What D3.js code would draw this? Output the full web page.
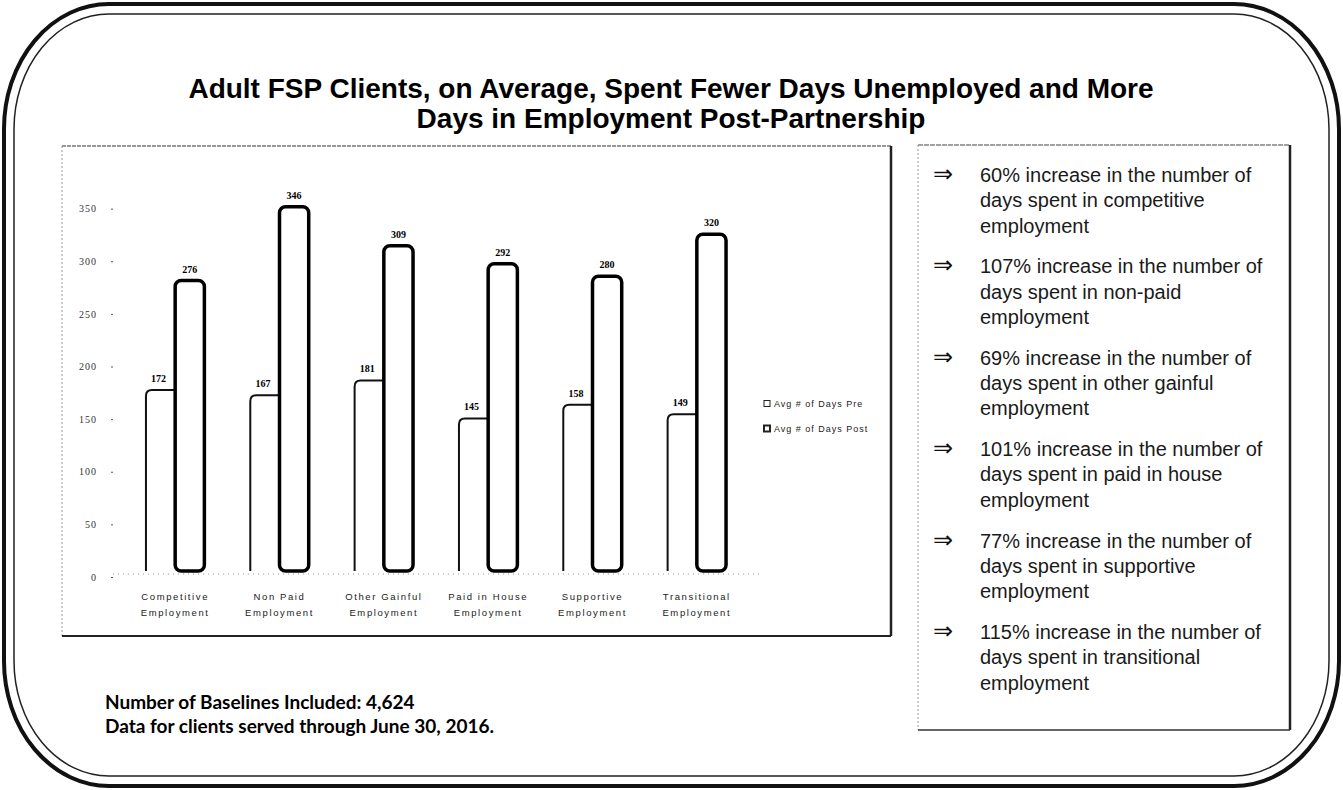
<!DOCTYPE html>
<html>
<head>
<meta charset="utf-8">
<script src="https://cdn.jsdelivr.net/npm/d3@7"></script>
<style>
  body { margin: 0; background: #fff; }
  svg { display: block; }
</style>
</head>
<body>
<div id="chart"></div>
<script>
// data
var categories = ["Competitive Employment", "Non Paid Employment", "Other Gainful Employment",
                  "Paid in House Employment", "Supportive Employment", "Transitional Employment"]
var preValues = [172, 167, 181, 145, 158, 149]
var postValues = [276, 346, 309, 292, 280, 320]
var seriesNames = ["Avg # of Days Pre", "Avg # of Days Post"]
var yTicks = [0, 50, 100, 150, 200, 250, 300, 350]
var titleLines = ["Adult FSP Clients, on Average, Spent Fewer Days Unemployed and More",
                  "Days in Employment Post-Partnership"]
var bullets = [
  ["60% increase in the number of", "days spent in competitive", "employment"],
  ["107% increase in the number of", "days spent in non-paid", "employment"],
  ["69% increase in the number of", "days spent in other gainful", "employment"],
  ["101% increase in the number of", "days spent in paid in house", "employment"],
  ["77% increase in the number of", "days spent in supportive", "employment"],
  ["115% increase in the number of", "days spent in transitional", "employment"]
]
var footNotes = ["Number of Baselines Included: 4,624", "Data for clients served through June 30, 2016."]

var width = 1343,
    height = 790

var svg = d3.select("#chart")
  .append("svg")
    .attr("width", width)
    .attr("height", height)

// outer double rounded frame
svg.append("rect")
  .attr("x", 4).attr("y", 4)
  .attr("width", width - 8).attr("height", height - 8)
  .attr("rx", 105).attr("ry", 125)
  .attr("fill", "none")
  .attr("stroke", "#111")
  .attr("stroke-width", 4)
svg.append("rect")
  .attr("x", 14).attr("y", 14)
  .attr("width", width - 28).attr("height", height - 28)
  .attr("rx", 95).attr("ry", 115)
  .attr("fill", "none")
  .attr("stroke", "#222")
  .attr("stroke-width", 1.5)

// title
svg.append("g")
  .selectAll("text")
  .data(titleLines)
  .enter()
  .append("text")
    .attr("x", 671)
    .attr("y", function(d, i) { return 98 + i * 30 })
    .attr("text-anchor", "middle")
    .style("font-family", "'Liberation Sans', Arial, sans-serif")
    .style("font-weight", "bold")
    .style("font-size", "28px")
    .style("fill", "#000")
    .text(function(d) { return d })

// chart panel borders
var panel = { x0: 62, y0: 146, x1: 891, y1: 636 }
var borders = svg.append("g")
borders.append("line").attr("x1", panel.x0).attr("y1", panel.y0).attr("x2", panel.x1).attr("y2", panel.y0)
  .attr("stroke", "#333").attr("stroke-width", 1.2).attr("stroke-dasharray", "4,1")
borders.append("line").attr("x1", panel.x0).attr("y1", panel.y0).attr("x2", panel.x0).attr("y2", panel.y1)
  .attr("stroke", "#999").attr("stroke-width", 1).attr("stroke-dasharray", "2,2")
borders.append("line").attr("x1", panel.x1).attr("y1", panel.y0).attr("x2", panel.x1).attr("y2", panel.y1)
  .attr("stroke", "#222").attr("stroke-width", 2.5)
borders.append("line").attr("x1", panel.x0).attr("y1", panel.y1).attr("x2", panel.x1).attr("y2", panel.y1)
  .attr("stroke", "#222").attr("stroke-width", 2)

// scales
var x0 = d3.scaleBand()
  .domain(categories)
  .range([123, 749])
  .paddingInner(0.44)
  .paddingOuter(0.22)

var x1 = d3.scaleBand()
  .domain(seriesNames)
  .range([0, x0.bandwidth()])

var y = d3.scaleLinear()
  .domain([0, 400])
  .range([571, 150])

// y axis (drawn on the back wall, a little lower than the bars)
var yAxis = svg.append("g")
  .attr("transform", "translate(113,6)")
  .call(d3.axisLeft(y).tickValues(yTicks).tickSize(2).tickPadding(14))
yAxis.select(".domain").remove()
yAxis.selectAll("line").attr("stroke", "#555")
yAxis.selectAll("text")
  .style("font-family", "'Liberation Serif', serif")
  .style("font-size", "10px")
  .style("letter-spacing", "1px")
  .style("fill", "#333")

// dotted floor line
svg.append("line")
  .attr("x1", 113).attr("x2", 760)
  .attr("y1", y(0) + 3).attr("y2", y(0) + 3)
  .attr("stroke", "#999")
  .attr("stroke-width", 1)
  .attr("stroke-dasharray", "1,4")

var groups = svg.selectAll(".group")
  .data(categories)
  .enter()
  .append("g")
    .attr("class", "group")
    .attr("transform", function(d) { return "translate(" + x0(d) + ",0)" })

// pre bars: left edge and rounded top only, right side hidden behind post bar
groups.append("path")
  .attr("d", function(d, i) {
    var bx = x1(seriesNames[0]), bw = x1.bandwidth(), top = y(preValues[i]), r = 6
    return "M" + bx + "," + y(0) + "L" + bx + "," + (top + r) +
      "Q" + bx + "," + top + " " + (bx + r) + "," + top + "L" + (bx + bw + 2) + "," + top
  })
  .attr("fill", "#fff")
  .attr("stroke", "#111")
  .attr("stroke-width", 2)

// post bars: rounded cylinder-like outline
groups.append("rect")
  .attr("x", x1(seriesNames[1]))
  .attr("y", function(d, i) { return y(postValues[i]) })
  .attr("width", x1.bandwidth())
  .attr("height", function(d, i) { return y(0) - y(postValues[i]) })
  .attr("rx", 6)
  .attr("fill", "#fff")
  .attr("stroke", "#000")
  .attr("stroke-width", 3.5)

// value labels
groups.append("text")
  .attr("x", x1(seriesNames[0]) + x1.bandwidth() / 2 - 2)
  .attr("y", function(d, i) { return y(preValues[i]) - 8 })
  .attr("text-anchor", "middle")
  .style("font-family", "'Liberation Serif', serif")
  .style("font-weight", "bold")
  .style("font-size", "10px")
  .text(function(d, i) { return preValues[i] })
groups.append("text")
  .attr("x", x1(seriesNames[1]) + x1.bandwidth() / 2)
  .attr("y", function(d, i) { return y(postValues[i]) - 8 })
  .attr("text-anchor", "middle")
  .style("font-family", "'Liberation Serif', serif")
  .style("font-weight", "bold")
  .style("font-size", "10px")
  .text(function(d, i) { return postValues[i] })

// category labels, two lines
groups.append("text")
  .attr("text-anchor", "middle")
  .style("font-family", "'Liberation Sans', Arial, sans-serif")
  .style("font-size", "9.5px")
  .style("letter-spacing", "1.6px")
  .style("fill", "#222")
  .selectAll("tspan")
  .data(function(d) {
    var k = d.lastIndexOf(" ")
    return [d.slice(0, k), d.slice(k + 1)]
  })
  .enter()
  .append("tspan")
    .attr("x", x0.bandwidth() / 2)
    .attr("y", function(d, i) { return 600 + i * 16 })
    .text(function(d) { return d })

// legend
var legend = svg.append("g")
  .selectAll("g")
  .data(seriesNames)
  .enter()
  .append("g")
    .attr("transform", function(d, i) { return "translate(764," + (404 + i * 25) + ")" })
legend.append("rect")
  .attr("x", 0).attr("y", -3.5)
  .attr("width", 6).attr("height", 6)
  .attr("fill", "#fff")
  .attr("stroke", "#222")
  .attr("stroke-width", function(d, i) { return i ? 2 : 1 })
legend.append("text")
  .attr("x", 10)
  .attr("y", 3)
  .style("font-family", "'Liberation Sans', Arial, sans-serif")
  .style("font-size", "9px")
  .style("letter-spacing", "1px")
  .style("fill", "#222")
  .text(function(d) { return d })

// right text panel
var box = { x0: 918, y0: 145, x1: 1290, y1: 730 }
var boxLines = svg.append("g")
boxLines.append("line").attr("x1", box.x0).attr("y1", box.y0).attr("x2", box.x1).attr("y2", box.y0)
  .attr("stroke", "#444").attr("stroke-width", 1.2).attr("stroke-dasharray", "5,1")
boxLines.append("line").attr("x1", box.x0).attr("y1", box.y0).attr("x2", box.x0).attr("y2", box.y1)
  .attr("stroke", "#999").attr("stroke-width", 1).attr("stroke-dasharray", "2,2")
boxLines.append("line").attr("x1", box.x1).attr("y1", box.y0).attr("x2", box.x1).attr("y2", box.y1)
  .attr("stroke", "#222").attr("stroke-width", 2.5)
boxLines.append("line").attr("x1", box.x0).attr("y1", box.y1).attr("x2", box.x1).attr("y2", box.y1)
  .attr("stroke", "#333").attr("stroke-width", 1.5)

var items = svg.append("g")
  .selectAll("g")
  .data(bullets)
  .enter()
  .append("g")
    .attr("transform", function(d, i) { return "translate(0," + (182 + i * 91.4) + ")" })
items.append("text")
  .attr("x", 933)
  .attr("y", 0)
  .style("font-family", "'DejaVu Sans', sans-serif")
  .style("font-size", "24px")
  .style("fill", "#111")
  .text("\u21D2")
items.append("text")
  .style("font-family", "'Liberation Sans', Arial, sans-serif")
  .style("font-size", "20px")
  .style("fill", "#1a1a1a")
  .selectAll("tspan")
  .data(function(d) { return d })
  .enter()
  .append("tspan")
    .attr("x", 980)
    .attr("y", function(d, i) { return i * 25.3 })
    .text(function(d) { return d })

// footnotes
svg.append("g")
  .selectAll("text")
  .data(footNotes)
  .enter()
  .append("text")
    .attr("x", 105)
    .attr("y", function(d, i) { return 709 + i * 23.5 })
    .style("font-family", "Lato, 'Open Sans', sans-serif")
    .style("font-weight", "bold")
    .style("font-size", "19px")
    .style("fill", "#000")
    .text(function(d) { return d })
</script>
</body>
</html>
